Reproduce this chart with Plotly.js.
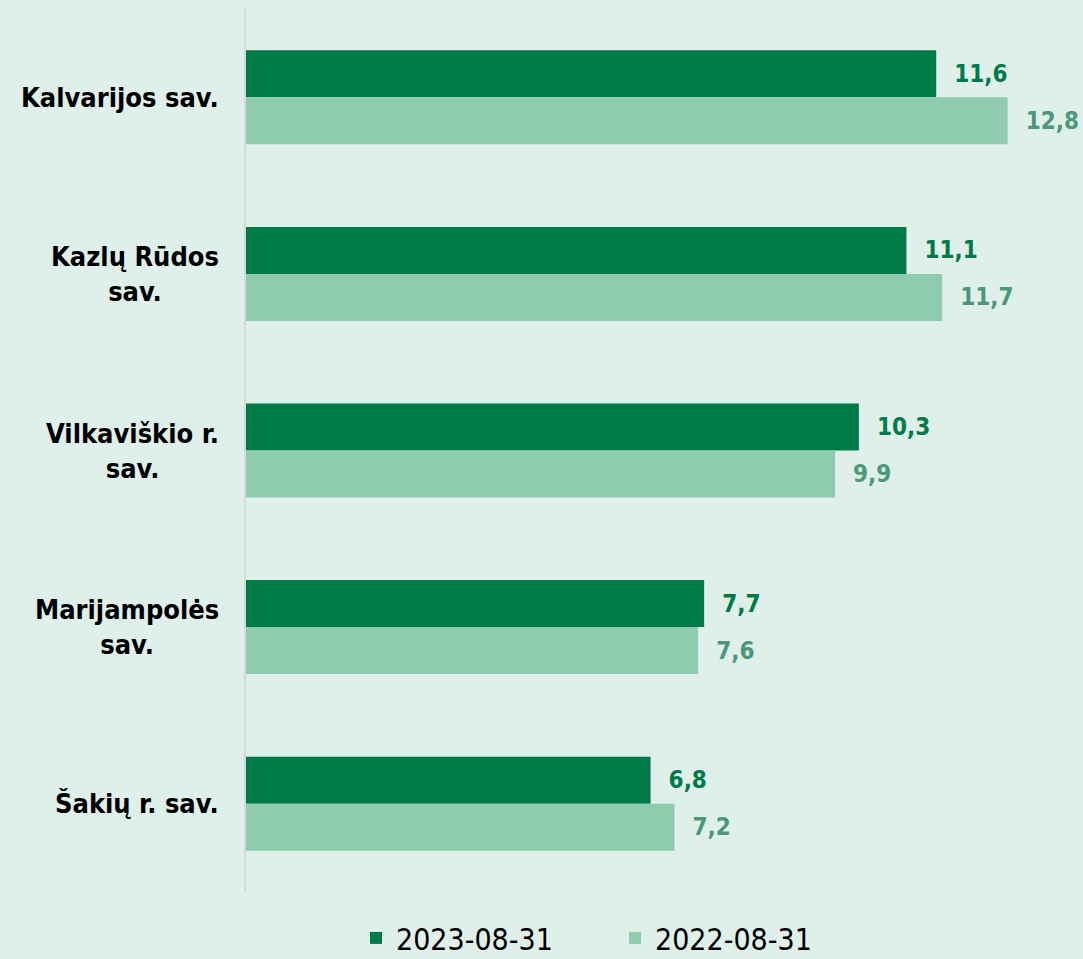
<!DOCTYPE html>
<html>
<head>
<meta charset="utf-8">
<script src="https://cdn.plot.ly/plotly-3.0.1.min.js"></script>
<style>html,body{margin:0;padding:0;background:#DFEFE9;}#chart{width:1083px;height:959px;}</style>
</head>
<body>
<div id="chart"></div>
<script>
var categories = ["Kalvarijos sav.", "Kazlų Rūdos<br>sav.", "Vilkaviškio r.<br>sav.", "Marijampolės<br>sav.", "Šakių r. sav."];
var seriesNames = ["2023-08-31", "2022-08-31"];
var values2023 = [11.6, 11.1, 10.3, 7.7, 6.8];
var values2022 = [12.8, 11.7, 9.9, 7.6, 7.2];

var FONT = "Tahoma, 'DejaVu Sans Condensed', 'DejaVu Sans', sans-serif";
var DARK = "#007A47", LIGHT = "#8FCBAE";
var GAP = "\u00a0\u00a0";

function fmt(v){ return GAP + v.toFixed(1).replace('.', ','); }

var traces = [
  {type:'bar', orientation:'h', name:seriesNames[0], y:categories, x:values2023,
   marker:{color:DARK}, text:values2023.map(fmt), textposition:'outside', cliponaxis:false,
   textfont:{family:FONT, size:24, color:DARK, weight:'bold'}, hoverinfo:'x'},
  {type:'bar', orientation:'h', name:seriesNames[1], y:categories, x:values2022,
   marker:{color:LIGHT}, text:values2022.map(fmt), textposition:'outside', cliponaxis:false,
   textfont:{family:FONT, size:24, color:'#4C977A', weight:'bold'}, hoverinfo:'x'}
];

var annotations = categories.map(function(c){
  return {xref:'paper', yref:'y', x:0, y:c, xanchor:'right', yanchor:'middle', xshift:-25,
    text:c, showarrow:false, align:'center',
    font:{family:FONT, size:27, color:'#000', weight:'bold'}};
});

var layout = {
  width:1083, height:959,
  paper_bgcolor:'#DFEFE9', plot_bgcolor:'#DFEFE9',
  margin:{l:246, r:4, t:9, b:67, autoexpand:false},
  barmode:'group', bargap:0.468, bargroupgap:0,
  font:{family:FONT},
  xaxis:{range:[0,14], showgrid:false, zeroline:false, showticklabels:false, showline:false, fixedrange:true},
  yaxis:{autorange:'reversed', showticklabels:false, showgrid:false, zeroline:false,
    showline:true, linecolor:'#D9D9D9', linewidth:2, ticks:'', fixedrange:true},
  showlegend:true,
  legend:{orientation:'h', xref:'container', x:356/1083, xanchor:'left', yref:'container', y:0.022, yanchor:'middle',
    font:{family:FONT, size:30, color:'#000'}, itemwidth:30, entrywidth:214, traceorder:'normal', bgcolor:'rgba(0,0,0,0)'},
  annotations:annotations
};

Plotly.newPlot('chart', traces, layout, {displayModeBar:false, staticPlot:true});
</script>
</body>
</html>
